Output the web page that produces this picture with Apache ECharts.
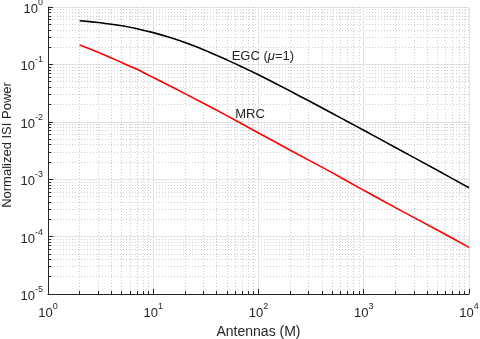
<!DOCTYPE html>
<html>
<head>
<meta charset="utf-8">
<script src="https://cdn.jsdelivr.net/npm/echarts@6/dist/echarts.min.js"></script>
<style>
  html, body { margin: 0; padding: 0; background: #fff; }
  #chart { width: 480px; height: 339px; }
</style>
</head>
<body>
<div id="chart"></div>
<script>
// antennas M and normalized ISI power
var egcM   = [2, 3, 4, 5, 7, 10, 15, 20, 30, 50, 70, 100, 150, 200, 300, 500, 700, 1000, 2000, 5000, 10000];
var egcISI = [0.577, 0.538, 0.502, 0.471, 0.419, 0.358, 0.288, 0.24, 0.18, 0.12, 0.0904, 0.0658, 0.0451, 0.0343, 0.0232, 0.0141, 0.0101, 0.00713, 0.00356, 0.00143, 0.00071];
var mrcM   = [2, 3, 5, 7, 10, 20, 50, 100, 200, 500, 1000, 2000, 5000, 10000];
var mrcISI = [0.218, 0.163, 0.108, 0.082, 0.059, 0.031, 0.0128, 0.0064, 0.0032, 0.0013, 0.00064, 0.00032, 0.00013, 0.000065];

var font = 'Liberation Sans, Arial, Helvetica, sans-serif';
var ink = '#262626';

function pairs(xs, ys) {
  return xs.map(function (x, i) { return [x, ys[i]]; });
}

// 10^n labels with a raised exponent
function powLabel(v) {
  var e = Math.round(Math.log10(v));
  return '{b|10}{s|' + e + '}';
}
var powRich = {
  b: { fontSize: 13, fontFamily: font, color: ink, lineHeight: 18, verticalAlign: 'bottom' },
  s: { fontSize: 9, fontFamily: font, color: ink, lineHeight: 10, verticalAlign: 'top' }
};

var chart = echarts.init(document.getElementById('chart'));
chart.setOption({
  animation: false,
  grid: { left: 48, right: 11, top: 7, bottom: 45, containLabel: false, outerBoundsMode: 'none' },
  xAxis: {
    type: 'log', logBase: 10, min: 1, max: 10000,
    name: 'Antennas (M)', nameLocation: 'middle', nameGap: 31, nameMoveOverlap: false,
    nameTextStyle: { fontSize: 14, fontFamily: font, color: ink },
    axisLine: { lineStyle: { color: ink, width: 1 } },
    axisTick: { inside: true, length: 5, lineStyle: { color: ink } },
    minorTick: { show: true, splitNumber: 9, length: 3, lineStyle: { color: ink } },
    axisLabel: { formatter: powLabel, rich: powRich, margin: 8 },
    splitLine: { show: true, lineStyle: { color: '#e3e3e3' } },
    minorSplitLine: { show: true, lineStyle: { color: '#cccccc', type: [1, 2] } }
  },
  yAxis: {
    type: 'log', logBase: 10, min: 0.00001, max: 1,
    name: 'Normalized ISI Power', nameLocation: 'middle', nameGap: 34, nameMoveOverlap: false,
    nameTextStyle: { fontSize: 13, fontFamily: font, color: ink, padding: [0, 0, 0, 11] },
    axisLine: { show: true, lineStyle: { color: ink, width: 1 } },
    axisTick: { show: true, inside: true, length: 5, lineStyle: { color: ink } },
    minorTick: { show: true, splitNumber: 9, length: 3, lineStyle: { color: ink } },
    axisLabel: { formatter: powLabel, rich: powRich, margin: 5 },
    splitLine: { show: true, lineStyle: { color: '#e3e3e3' } },
    minorSplitLine: { show: true, lineStyle: { color: '#cccccc', type: [1, 2] } }
  },
  series: [
    {
      name: 'EGC', type: 'line', data: pairs(egcM, egcISI),
      showSymbol: false, smooth: 0.2,
      lineStyle: { color: '#000000', width: 1.6 },
      markPoint: {
        symbolSize: 0,
        label: {
          show: true, position: 'inside', fontSize: 13, fontFamily: font, color: ink,
          formatter: 'EGC ({i|μ}=1)', rich: { i: { fontStyle: 'italic', fontSize: 13, fontFamily: font, color: ink } }
        },
        data: [{ coord: [110, 0.14] }]
      }
    },
    {
      name: 'MRC', type: 'line', data: pairs(mrcM, mrcISI),
      showSymbol: false, smooth: 0.2,
      lineStyle: { color: '#ff0000', width: 1.6 },
      markPoint: {
        symbolSize: 0,
        label: { show: true, position: 'inside', fontSize: 13, fontFamily: font, color: ink, formatter: 'MRC' },
        data: [{ coord: [83, 0.0137] }]
      }
    }
  ]
});
</script>
</body>
</html>
